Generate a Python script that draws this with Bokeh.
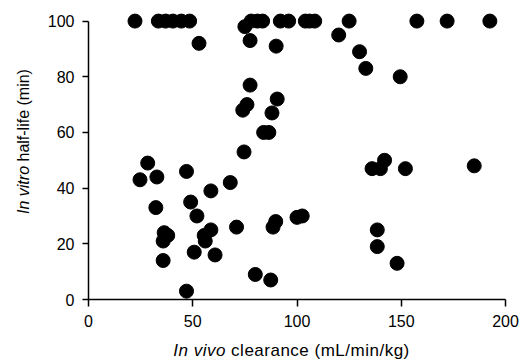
from bokeh.plotting import figure
from bokeh.models import Range1d, FixedTicker, Div
from bokeh.layouts import row, column
from bokeh.embed import file_html
from bokeh.resources import INLINE

# In vivo clearance (mL/min/kg)
clearance = [22.3, 33.5, 37, 40.5, 44.5, 48.5, 78, 81, 83.5, 92, 96, 104, 106, 108.5, 125, 157.5, 172, 192.5,
             53, 75, 77.5, 90, 120, 130, 133, 149.5,
             77.5, 76, 74, 90.5, 88, 84, 86.5, 74.6,
             28.4, 24.7, 32.8, 47, 68, 58.7, 49, 32.3, 52,
             36.3, 38, 35.8, 55.5, 58.7, 56, 71, 89.8, 88.5, 100, 102.5,
             50.7, 60.7, 35.8, 80, 87.4, 47,
             142, 136, 140, 152, 185, 138.5, 138.5, 148]
# In vitro half-life (min)
half_life = [100, 100, 100, 100, 100, 100, 100, 100, 100, 100, 100, 100, 100, 100, 100, 100, 100, 100,
             92, 98, 93, 91, 95, 89, 83, 80,
             77, 70, 68, 72, 67, 60, 60, 53,
             49, 43, 44, 46, 42, 39, 35, 33, 30,
             24, 23, 21, 23, 25, 21, 26, 28, 26, 29.5, 30,
             17, 16, 14, 9, 7, 3,
             50, 47, 47, 47, 48, 25, 19, 13]

x_ticks = [0, 50, 100, 150, 200]
y_ticks = [0, 20, 40, 60, 80, 100]
x_title_italic, x_title_rest = "In vivo", "clearance (mL/min/kg)"
y_title_italic, y_title_rest = "In vitro", "half-life (min)"

FONT = "Liberation Sans"

p = figure(width=489, height=338, output_backend="svg", toolbar_location=None,
           x_range=Range1d(0, 200), y_range=Range1d(0, 103.8),
           min_border_left=48, min_border_right=24, min_border_top=10, min_border_bottom=39)
p.outline_line_color = None
p.xgrid.visible = False
p.ygrid.visible = False

p.scatter(clearance, half_life, size=14, color="black")

for ax, ticks, bounds in ((p.xaxis[0], x_ticks, (0, 200)), (p.yaxis[0], y_ticks, (0, 100))):
    ax.ticker = FixedTicker(ticks=ticks)
    ax.bounds = bounds
    ax.axis_line_color = "black"
    ax.axis_line_width = 1.5
    ax.major_tick_line_color = "black"
    ax.major_tick_line_width = 1.5
    ax.major_tick_in = 0
    ax.minor_tick_line_color = None
    ax.major_label_text_font = FONT
    ax.major_label_text_font_size = "16px"
    ax.major_label_text_color = "black"

p.xaxis.major_tick_out = 7
p.xaxis.major_label_standoff = 8
p.yaxis.major_tick_out = 6
p.yaxis.major_label_standoff = 8

base_style = f"font-family:'{FONT}';color:black;white-space:nowrap;"

xdiv = Div(width=489, height=23, margin=0,
           text=(f'<div style="{base_style}font-size:17px;letter-spacing:0.5px;box-sizing:border-box;'
                 f'width:489px;padding-left:14px;text-align:center;line-height:20px;margin-top:3px;">'
                 f'<i>{x_title_italic}</i> {x_title_rest}</div>'))

ydiv = Div(width=40, height=361, margin=0,
           text=(f'<div style="{base_style}font-size:16px;width:200px;height:20px;line-height:20px;'
                 f'text-align:center;transform:translate(-76px,131.5px) rotate(-90deg);">'
                 f'<i>{y_title_italic}</i> {y_title_rest}</div>'))

layout = row(ydiv, column(p, xdiv, spacing=0), spacing=0)

open("out.html", "w").write(file_html(layout, INLINE))
